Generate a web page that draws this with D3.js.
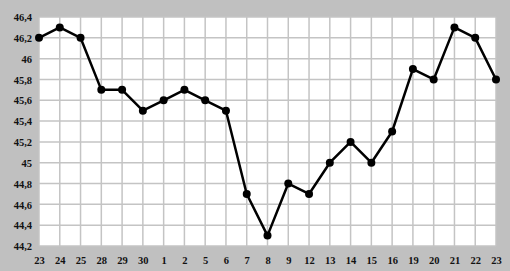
<!DOCTYPE html>
<html>
<head>
<meta charset="utf-8">
<script src="https://cdn.jsdelivr.net/npm/d3@7"></script>
<style>
  body { margin: 0; background: #c0c0c0; }
  svg { display: block; }
</style>
</head>
<body>
<div id="chart"></div>
<script>
// chart data
const days = ["23","24","25","28","29","30","1","2","5","6","7","8","9","12","13","14","15","16","19","20","21","22","23"]
const values = [46.2,46.3,46.2,45.7,45.7,45.5,45.6,45.7,45.6,45.5,44.7,44.3,44.8,44.7,45.0,45.2,45.0,45.3,45.9,45.8,46.3,46.2,45.8]
const yTicks = [44.2,44.4,44.6,44.8,45,45.2,45.4,45.6,45.8,46,46.2,46.4]

// layout
const width = 510
const height = 271
const plot = {left: 39, top: 17, right: 496, bottom: 246}

const svg = d3.select("#chart").append("svg")
    .attr("width", width)
    .attr("height", height)

svg.append("rect")
    .attr("width", width).attr("height", height)
    .attr("fill", "#c0c0c0")

const x = d3.scalePoint()
    .domain(d3.range(days.length))
    .range([plot.left, plot.right])

const y = d3.scaleLinear()
    .domain([44.2, 46.4])
    .range([plot.bottom, plot.top])

// plot area
svg.append("rect")
    .attr("x", plot.left).attr("y", plot.top)
    .attr("width", plot.right - plot.left)
    .attr("height", plot.bottom - plot.top)
    .attr("fill", "#fff")

// grid
svg.append("g")
    .selectAll("line")
    .data(yTicks)
    .join("line")
    .attr("x1", plot.left).attr("x2", plot.right)
    .attr("y1", d => y(d)).attr("y2", d => y(d))
    .attr("stroke", "#c4c4c4")
    .attr("stroke-width", 1.5)

svg.append("g")
    .selectAll("line")
    .data(d3.range(days.length))
    .join("line")
    .attr("x1", d => x(d)).attr("x2", d => x(d))
    .attr("y1", plot.top).attr("y2", plot.bottom)
    .attr("stroke", "#c4c4c4")
    .attr("stroke-width", 1.5)

// axes
const fmt = d => d3.format("~g")(d).replace(".", ",")

function styleAxis(g){
    g.select(".domain").remove()
    g.selectAll("text")
        .attr("fill", "#111")
        .style("font-family", "Liberation Serif")
        .style("font-size", "10.5px")
        .style("font-weight", "bold")
}

const yAxis = svg.append("g")
    .attr("transform", `translate(${plot.left - 7},0)`)
    .call(d3.axisLeft(y).tickValues(yTicks).tickFormat(fmt).tickSize(0).tickPadding(0))
    .call(styleAxis)
yAxis.selectAll("text").attr("dy", "0.35em")

svg.append("g")
    .attr("transform", `translate(0,${plot.bottom})`)
    .call(d3.axisBottom(x).tickFormat(i => days[i]).tickSize(0).tickPadding(11))
    .call(styleAxis)

// series
const line = d3.line()
    .x((d, i) => x(i))
    .y(d => y(d))

svg.append("path")
    .datum(values)
    .attr("d", line)
    .attr("fill", "none")
    .attr("stroke", "#000")
    .attr("stroke-width", 2.5)
    .attr("stroke-linejoin", "round")

svg.append("g")
    .selectAll("circle")
    .data(values)
    .join("circle")
    .attr("cx", (d, i) => x(i))
    .attr("cy", d => y(d))
    .attr("r", 4)
    .attr("fill", "#000")
</script>
</body>
</html>
